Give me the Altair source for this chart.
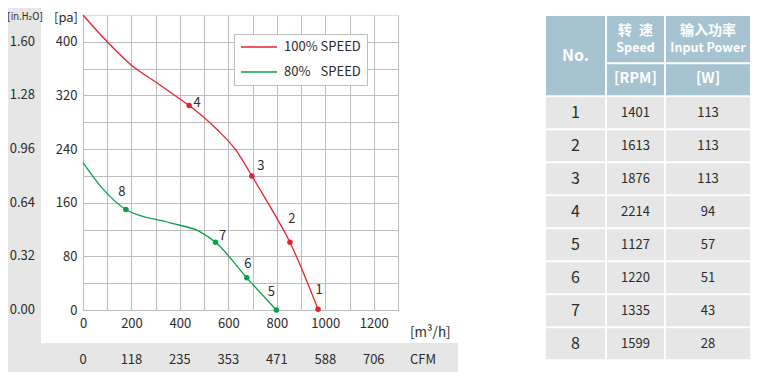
import altair as alt
import pandas as pd

FONT = "Noto Sans CJK SC"

# ---------------- data ----------------
series_names = ["100% SPEED", "80%\u2007 SPEED"]
series_colors = ["#e8212b", "#0aa14b"]

# 100% speed curve (m3/h, Pa)
red_q = [0, 100, 200, 300, 379, 438, 551, 634, 697, 771, 854, 970]
red_p = [440, 400, 365, 340, 320, 305, 270, 237, 200, 155, 101, 1]
# 80% speed curve
green_q = [0, 84, 177, 359, 482, 547, 676, 798]
green_p = [220, 180, 150, 130, 117, 101, 48, 0]

# numbered operating points
pt_id = [1, 2, 3, 4, 5, 6, 7, 8]
pt_q = [970, 854, 697, 438, 798, 676, 547, 177]
pt_p = [1, 101, 200, 305, 0, 48, 101, 150]
pt_series = [0, 0, 0, 0, 1, 1, 1, 1]

# axis tick labels
pa_ticks = [0, 80, 160, 240, 320, 400]
inh2o_labels = ["0.00", "0.32", "0.64", "0.96", "1.28", "1.60"]
m3h_ticks = [0, 200, 400, 600, 800, 1000, 1200]
cfm_labels = ["0", "118", "235", "353", "471", "588", "706"]

# table
tbl_no = [1, 2, 3, 4, 5, 6, 7, 8]
tbl_rpm = [1401, 1613, 1876, 2214, 1127, 1220, 1335, 1599]
tbl_w = [113, 113, 113, 94, 57, 51, 43, 28]

# ---------------- styles ----------------
label_offsets = {1: (1, -19), 2: (2, -23), 3: (9, -10), 4: (8, -3),
                 5: (-5, -18), 6: (1, -14), 7: (7, -6), 8: (-4, -17)}
GRID = "#bdbdbd"
STRIP = "#e6e6e6"
HEAD = "#a6c3d1"
CELL = "#e6e6e6"
TXT = "#2b2b2b"

SVG_W, SVG_H = 742, 364
PAD_L, PAD_T = 75, 7
PW, PH = 315, 295

# ---------------- frames ----------------
curves = pd.DataFrame({
    "q": red_q + green_q,
    "p": red_p + green_p,
    "s": [series_names[0]] * len(red_q) + [series_names[1]] * len(green_q),
})
pts = pd.DataFrame({
    "id": pt_id, "q": pt_q, "p": pt_p,
    "s": [series_names[i] for i in pt_series],
})

XS = alt.Scale(domain=[0, 1300], nice=False, zero=False)
YS = alt.Scale(domain=[0, 440], nice=False, zero=False)
x_axis = alt.Axis(values=list(range(0, 1301, 100)), format="d",
                  labelExpr="(datum.value % 200 == 0 && datum.value <= 1200) ? datum.label : ''",
                  title=None, grid=True, gridColor=GRID, gridWidth=1, tickSize=0, domain=False,
                  labelPadding=7, labelFontSize=13, labelColor=TXT, labelFont=FONT,
                  labelFlush=False, labelOverlap=False)
y_axis = alt.Axis(values=list(range(0, 401, 40)), format="d",
                  labelExpr="datum.value % 80 == 0 ? datum.label : ''",
                  title=None, grid=True, gridColor=GRID, gridWidth=1, tickSize=0, domain=False,
                  labelPadding=6, labelFontSize=13, labelColor=TXT, labelFont=FONT,
                  labelFlush=False, labelOverlap=False)
X = alt.X("q:Q", scale=XS, axis=x_axis)
Y = alt.Y("p:Q", scale=YS, axis=y_axis)
CSCALE = alt.Scale(domain=series_names, range=series_colors)
COLOR = alt.Color("s:N", scale=CSCALE,
                  legend=alt.Legend(title=None, orient="none", legendX=151, legendY=19,
                                    direction="vertical", symbolType="M-1,0H5",
                                    symbolSize=144, symbolStrokeWidth=1.6,
                                    labelFontSize=13, labelFont=FONT, labelColor=TXT,
                                    strokeColor="#bdbdbd", fillColor="white",
                                    padding=6, rowPadding=11, labelOffset=30))

one = pd.DataFrame({"a": [0]})

strip_left = alt.Chart(one).mark_rect(color=STRIP).encode(
    x=alt.value(-PAD_L), x2=alt.value(-42), y=alt.value(-PAD_T), y2=alt.value(328))
strip_bottom = alt.Chart(one).mark_rect(color=STRIP).encode(
    x=alt.value(-PAD_L), x2=alt.value(375), y=alt.value(328), y2=alt.value(SVG_H - PAD_T))

line = alt.Chart(curves).mark_line(interpolate="monotone", strokeWidth=1.3).encode(
    x=X, y=Y, color=COLOR)
dots = alt.Chart(pts).mark_circle(size=30, opacity=1).encode(
    x=X, y=Y, color=alt.Color("s:N", scale=CSCALE, legend=None))

labels = []
for i, pid in enumerate(pt_id):
    dx, dy = label_offsets[pid]
    labels.append(
        alt.Chart(pts.iloc[[i]]).mark_text(dx=dx, dy=dy, fontSize=13, font=FONT, color=TXT,
                                           align="center", baseline="middle").encode(
            x=X, y=Y, text="id:N"))

h2o = pd.DataFrame({"p": pa_ticks, "t": inh2o_labels})
h2o_text = alt.Chart(h2o).mark_text(fontSize=13, font=FONT, color=TXT, align="right",
                                    baseline="middle").encode(
    x=alt.value(-48), y=Y, text="t:N")
cfm = pd.DataFrame({"q": m3h_ticks, "t": cfm_labels})
cfm_text = alt.Chart(cfm).mark_text(fontSize=13, font=FONT, color=TXT, align="center",
                                    baseline="middle").encode(
    x=X, y=alt.value(345), text="t:N")

def fixed_text(txt, x, y, size=13, align="left", font=FONT):
    return alt.Chart(one).mark_text(text=txt, fontSize=size, font=font, color=TXT,
                                    align=align, baseline="middle").encode(
        x=alt.value(x), y=alt.value(y))

titles = [
    fixed_text("[pa]", -5, 2.5, 13, "right"),
    fixed_text("[in.H\u2082O]", -58, 2, 10, "center", "DejaVu Sans Condensed"),
    fixed_text("[m\u00b3/h]", 327, 318, 13.5, "left"),
    fixed_text("CFM", 327, 345, 13, "left"),
]

plot = alt.layer(strip_left, strip_bottom, line, dots, h2o_text, cfm_text, *labels, *titles)

# ---------------- table ----------------
col_edges = [(0, 59), (61, 118), (120, 204)]
TXS = alt.Scale(domain=[0, 204], range=[463, 667], nice=False, zero=False)
TYS = alt.Scale(domain=[0, 344], range=[1, 345], nice=False, zero=False)

cells = []
cells.append(dict(x0=0, x1=59, y0=0, y1=79.3, f=HEAD))
for c in (1, 2):
    cells.append(dict(x0=col_edges[c][0], x1=col_edges[c][1], y0=0, y1=46.3, f=HEAD))
    cells.append(dict(x0=col_edges[c][0], x1=col_edges[c][1], y0=48.3, y1=79.3, f=HEAD))
for r in range(len(tbl_no)):
    top = 81.3 + 33 * r
    for c in range(3):
        cells.append(dict(x0=col_edges[c][0], x1=col_edges[c][1], y0=top, y1=top + 31, f=CELL))
cells = pd.DataFrame(cells)

rects = alt.Chart(cells).mark_rect().encode(
    x=alt.X("x0:Q", scale=TXS, axis=None), x2="x1",
    y=alt.Y("y0:Q", scale=TYS, axis=None), y2="y1",
    fill=alt.Fill("f:N", scale=None))

cx = [(a + b) / 2 for a, b in col_edges]
head_rows = [
    ("No.", cx[0], 40, 16), ("转\u2002速", cx[1], 15, 14), ("Speed", cx[1], 32, 12.5),
    ("输入功率", cx[2], 15, 14), ("Input Power", cx[2], 32, 12.5),
    ("[RPM]", cx[1], 63, 14.5), ("[W]", cx[2], 63, 14.5),
]
head = pd.DataFrame(head_rows, columns=["t", "x", "y", "fs"])
head_text = alt.Chart(head).mark_text(font=FONT, fontWeight="bold", color="white",
                                      baseline="middle", align="center").encode(
    x=alt.X("x:Q", scale=TXS, axis=None), y=alt.Y("y:Q", scale=TYS, axis=None),
    text="t:N", size=alt.Size("fs:Q", scale=None))

body_rows = []
for r in range(len(tbl_no)):
    cy = 81.3 + 33 * r + 15.5
    body_rows.append((str(tbl_no[r]), cx[0], cy, 16))
    body_rows.append((str(tbl_rpm[r]), cx[1], cy, 13))
    body_rows.append((str(tbl_w[r]), cx[2], cy, 13))
body = pd.DataFrame(body_rows, columns=["t", "x", "y", "fs"])
body_text = alt.Chart(body).mark_text(font=FONT, color=TXT, baseline="middle",
                                      align="center").encode(
    x=alt.X("x:Q", scale=TXS, axis=None), y=alt.Y("y:Q", scale=TYS, axis=None),
    text="t:N", size=alt.Size("fs:Q", scale=None))

table = alt.layer(rects, head_text, body_text)

chart = alt.layer(plot, table).resolve_scale(x="independent", y="independent").properties(
    width=PW, height=PH,
    autosize=alt.AutoSizeParams(type="none"),
    padding={"left": PAD_L, "top": PAD_T, "right": SVG_W - PAD_L - PW,
             "bottom": SVG_H - PAD_T - PH},
).configure_view(stroke=None).configure(background="white")

chart.save("out.html", embed_options={"renderer": "svg", "actions": False})
